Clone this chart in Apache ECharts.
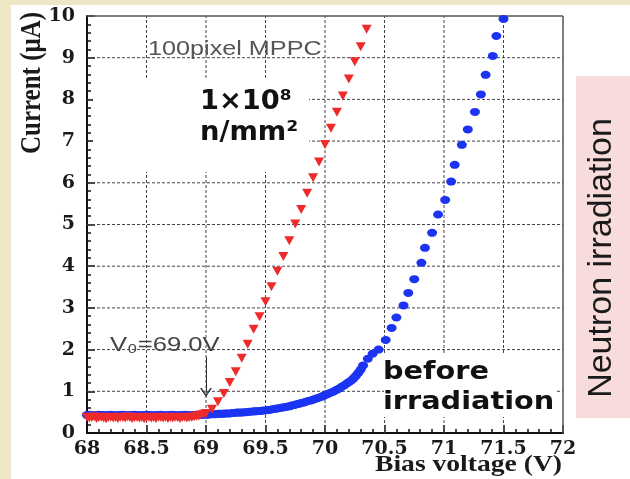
<!DOCTYPE html>
<html>
<head>
<meta charset="utf-8">
<title>MPPC I-V</title>
<script src="https://cdn.jsdelivr.net/npm/echarts@6/dist/echarts.min.js"></script>
<style>
  html, body { margin: 0; padding: 0; }
  #main { width: 630px; height: 479px; }
</style>
</head>
<body>
<div id="main"></div>
<script>
// before irradiation (blue dots): bias voltage (V) and current (uA)
var blueV = [
  68.00,68.02,68.04,68.06,68.08,68.10,68.12,68.14,68.16,68.18,
  68.20,68.22,68.24,68.26,68.28,68.30,68.32,68.34,68.36,68.38,
  68.40,68.42,68.44,68.46,68.48,68.50,68.52,68.54,68.56,68.58,
  68.60,68.62,68.64,68.66,68.68,68.70,68.72,68.74,68.76,68.78,
  68.80,68.82,68.84,68.86,68.88,68.90,68.92,68.94,68.96,68.98,
  69.00,69.02,69.04,69.06,69.08,69.10,69.12,69.14,69.16,69.18,
  69.20,69.22,69.24,69.26,69.28,69.30,69.32,69.34,69.36,69.38,
  69.40,69.42,69.44,69.46,69.48,69.50,69.52,69.54,69.56,69.58,
  69.60,69.62,69.64,69.66,69.68,69.70,69.72,69.74,69.76,69.78,
  69.80,69.82,69.84,69.86,69.88,69.90,69.92,69.94,69.96,69.98,
  70.00,70.02,70.04,70.06,70.08,70.10,70.12,70.14,70.16,70.18,
  70.20,70.22,70.24,70.26,70.28,70.30,70.32,70.36,70.40,
  70.45,70.51,70.56,70.60,70.66,70.70,70.75,70.81,70.84,70.90,
  70.95,71.01,71.06,71.09,71.15,71.20,71.26,71.31,71.35,71.41,
  71.44,71.50
];
var blueI = [
  0.43,0.44,0.43,0.42,0.43,0.44,0.43,0.43,0.42,0.43,
  0.44,0.43,0.42,0.43,0.43,0.44,0.43,0.42,0.43,0.43,
  0.44,0.43,0.43,0.42,0.43,0.44,0.43,0.43,0.42,0.43,
  0.43,0.44,0.43,0.42,0.43,0.43,0.44,0.43,0.42,0.43,
  0.43,0.44,0.43,0.43,0.42,0.43,0.44,0.43,0.43,0.44,
  0.44,0.44,0.45,0.45,0.45,0.46,0.46,0.46,0.47,0.47,
  0.47,0.48,0.48,0.49,0.49,0.49,0.50,0.50,0.51,0.51,
  0.52,0.52,0.53,0.53,0.54,0.54,0.55,0.56,0.57,0.58,
  0.59,0.60,0.61,0.62,0.63,0.64,0.66,0.67,0.69,0.70,
  0.72,0.73,0.75,0.77,0.78,0.80,0.82,0.84,0.86,0.88,
  0.91,0.93,0.96,0.98,1.01,1.04,1.07,1.11,1.14,1.18,
  1.22,1.26,1.31,1.37,1.44,1.52,1.62,1.78,1.90,
  2.00,2.23,2.52,2.77,3.06,3.36,3.69,4.08,4.44,4.80,
  5.24,5.59,6.03,6.43,6.91,7.28,7.70,8.12,8.59,9.04,
  9.52,9.93
];

// after 1e8 n/mm2 (red triangles)
var redV = [
  68.00,68.02,68.04,68.06,68.08,68.10,68.12,68.14,68.16,68.18,
  68.20,68.22,68.24,68.26,68.28,68.30,68.32,68.34,68.36,68.38,
  68.40,68.42,68.44,68.46,68.48,68.50,68.52,68.54,68.56,68.58,
  68.60,68.62,68.64,68.66,68.68,68.70,68.72,68.74,68.76,68.78,
  68.80,68.82,68.84,68.86,68.88,68.90,68.92,68.94,68.96,68.98,
  69.00,69.05,69.10,69.15,69.20,69.25,69.30,69.35,69.40,69.45,
  69.50,69.55,69.60,69.65,69.70,69.75,69.80,69.85,69.90,69.95,
  70.00,70.05,70.10,70.15,70.20,70.25,70.30,70.35
];
var redI = [
  0.38,0.36,0.37,0.39,0.35,0.37,0.38,0.36,0.34,0.37,
  0.38,0.36,0.37,0.35,0.38,0.37,0.36,0.39,0.37,0.35,
  0.37,0.38,0.36,0.37,0.34,0.37,0.38,0.36,0.37,0.35,
  0.38,0.37,0.36,0.38,0.35,0.37,0.36,0.38,0.37,0.35,
  0.37,0.38,0.36,0.37,0.38,0.39,0.40,0.41,0.43,0.45,
  0.47,0.57,0.75,0.95,1.21,1.47,1.79,2.13,2.49,2.79,
  3.15,3.51,3.88,4.23,4.61,5.01,5.36,5.75,6.12,6.50,
  6.92,7.31,7.69,8.08,8.49,8.90,9.26,9.68
];

// grid line positions (major ticks inside the frame)
var xGrid = [68.5, 69, 69.5, 70, 70.5, 71, 71.5];
var yGrid = [1, 2, 3, 4, 5, 6, 7, 8, 9];
var xMin = 68, xMax = 72, yMin = 0, yMax = 10;

function pairs(xs, ys) {
  var out = [];
  for (var i = 0; i < xs.length; i++) out.push([xs[i], ys[i]]);
  return out;
}

function tickFont(margin) {
  return { margin: margin, showMinLabel: true, showMaxLabel: true,
    fontFamily: 'DejaVu Serif', fontWeight: 'bold', fontSize: 19, color: '#1a1a1a' };
}

var chart = echarts.init(document.getElementById('main'));
chart.setOption({
  animation: false,
  backgroundColor: '#efe6c6',
  grid: { left: 87, right: 67, top: 16, bottom: 46 },
  xAxis: {
    type: 'value', min: xMin, max: xMax, interval: 0.5,
    axisLine: { lineStyle: { color: '#111', width: 2 } },
    axisTick: { inside: true, length: 8, lineStyle: { color: '#111', width: 1.5 } },
    minorTick: { show: true, splitNumber: 5, length: 4, lineStyle: { color: '#111', width: 1.5 } },
    axisLabel: tickFont(7),
    splitLine: { show: false }
  },
  yAxis: {
    type: 'value', min: yMin, max: yMax, interval: 1,
    axisLine: { show: true, lineStyle: { color: '#111', width: 2 } },
    axisTick: { show: true, inside: true, length: 8, lineStyle: { color: '#111', width: 1.5 } },
    minorTick: { show: true, splitNumber: 5, length: 4, lineStyle: { color: '#111', width: 1.5 } },
    axisLabel: tickFont(12),
    splitLine: { show: false }
  },
  series: [
    {
      name: 'before irradiation', type: 'scatter', silent: true,
      symbol: 'circle', symbolSize: [10, 8],
      itemStyle: { color: '#1c34f2', opacity: 1 },
      data: pairs(blueV, blueI)
    },
    {
      name: '1e8 n/mm2', type: 'scatter', silent: true,
      symbol: 'triangle', symbolRotate: 180, symbolSize: [10, 9],
      itemStyle: { color: '#ee2a2a', opacity: 1 },
      data: pairs(redV, redI),
      markLine: {
        silent: true, animation: false,
        symbol: ['none', 'path://M0,10L5,0L10,10L8.6,10L5,3L1.4,10Z'],
        symbolSize: [12, 9],
        lineStyle: { color: '#333', width: 1, type: 'solid' },
        label: { show: false },
        data: [[{ coord: [69, 1.82] }, { coord: [69, 0.97] }]]
      }
    }
  ]
});

// grid lines and frame, placed through the chart's own axis scales
function px(x, y) { return chart.convertToPixel({ gridIndex: 0 }, [x, y]); }
function seg(a, b, style) {
  return { type: 'line', z: 1, silent: true,
    shape: { x1: a[0], y1: a[1], x2: b[0], y2: b[1] }, style: style };
}
var dash = { stroke: '#444', lineWidth: 1, lineDash: [3, 2] };
var frame = { stroke: '#555', lineWidth: 1.5 };
var lines = [];
xGrid.forEach(function (v) { lines.push(seg(px(v, yMin), px(v, yMax), dash)); });
yGrid.forEach(function (v) { lines.push(seg(px(xMin, v), px(xMax, v), dash)); });
lines.push(seg(px(xMin, yMax), px(xMax, yMax), frame));
lines.push(seg(px(xMax, yMin), px(xMax, yMax), frame));

var labels = [
  // white page on the beige slide
  { type: 'rect', z: -10, silent: true, shape: { x: 11, y: 5, width: 619, height: 474 }, style: { fill: '#fff' } },
  { type: 'rect', z: 5, shape: { x: 93, y: 78, width: 216, height: 94 }, style: { fill: '#fff' } },
  { type: 'rect', z: 5, shape: { x: 384, y: 355, width: 172, height: 62 }, style: { fill: '#fff' } },
  { type: 'rect', z: 5, shape: { x: 576, y: 76, width: 54, height: 342 }, style: { fill: '#f8dcdc' } },
  {
    type: 'text', z: 6, x: 148, y: 49, scaleX: 1.2,
    style: { text: '100pixel MPPC', font: '21px "Liberation Sans"', fill: '#555', verticalAlign: 'middle' }
  },
  {
    type: 'text', z: 6, x: 200, y: 118, scaleX: 1.05,
    style: { text: '1×10⁸\nn/mm²', font: 'bold 26px "DejaVu Sans"', lineHeight: 31, fill: '#111', verticalAlign: 'middle' }
  },
  {
    type: 'text', z: 6, x: 383, y: 387, scaleX: 1.15,
    style: { text: 'before\nirradiation', font: 'bold 25px "DejaVu Sans"', lineHeight: 30, fill: '#111', verticalAlign: 'middle' }
  },
  {
    type: 'text', z: 6, x: 110, y: 345, scaleX: 1.22,
    style: { text: 'V₀=69.0V', font: '21px "Liberation Sans"', fill: '#444', verticalAlign: 'middle' }
  },
  {
    type: 'text', z: 6, x: 33, y: 83, rotation: Math.PI / 2, scaleY: 1.15,
    style: { text: 'Current (μA)', font: 'bold 25px "Liberation Serif"', fill: '#1a1a1a', align: 'center', verticalAlign: 'middle' }
  },
  {
    type: 'text', z: 6, x: 375, y: 465, scaleX: 1.15,
    style: { text: 'Bias voltage (V)', font: 'bold 24px "Liberation Serif"', fill: '#1a1a1a', verticalAlign: 'middle' }
  },
  {
    type: 'text', z: 6, x: 602, y: 258, rotation: Math.PI / 2,
    style: { text: 'Neutron irradiation', font: '34px "Liberation Sans"', fill: '#1a1a1a', align: 'center', verticalAlign: 'middle' }
  }
];

chart.setOption({ graphic: labels.concat(lines) });
</script>
</body>
</html>
